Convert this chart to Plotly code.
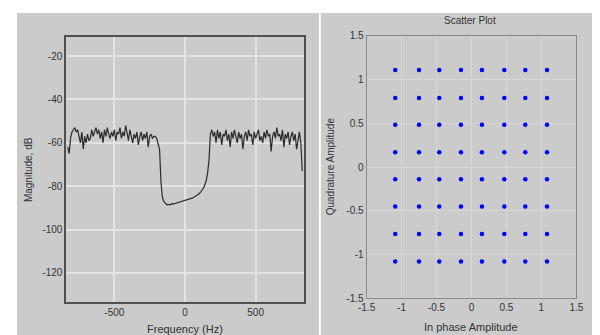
import plotly.graph_objects as go

# ---- Spectrum data (Hz, dB), sampled every 10 Hz from -830 Hz ----
freq_start = -830
freq_step = 10
magnitude_db = [
    -62, -65, -58, -55, -54, -53, -55, -54, -57, -60,
    -55, -63, -57, -60, -56, -59, -58, -54, -57, -55,
    -53, -56, -54, -58, -55, -60, -54, -57, -53, -56,
    -58, -55, -57, -54, -59, -55, -56, -53, -58, -55,
    -57, -52, -56, -59, -54, -57, -60, -56, -58, -55,
    -61, -57, -55, -59, -56, -58, -55, -62, -57, -56,
    -58, -57, -57, -58, -60,
    -63, -78, -85, -87, -88, -88.5, -88.5, -88.5, -88.5, -88,
    -88.3, -88, -87.8, -87.5, -87.6, -87.2, -87, -86.8, -86.7, -86.5,
    -86.2, -86, -85.8, -85.5, -85.2, -84.8, -84.5, -84, -83.5, -82.8,
    -82, -81, -79.5, -77.5, -74, -68, -56,
    -54, -57, -55, -60, -54, -58, -55, -61, -56, -57,
    -54, -59, -56, -62, -55, -58, -54, -57, -60, -55,
    -58, -56, -63, -57, -55, -59, -54, -57, -56, -61,
    -55, -58, -56, -54, -59, -57, -60, -55, -58, -54,
    -57, -56, -64, -57, -55, -58, -53, -57, -56, -59,
    -54, -62, -56, -58, -55, -61, -57, -55, -59, -56,
    -63, -58, -55, -60, -73,
]
freq_hz = [freq_start + freq_step * i for i in range(len(magnitude_db))]

spec_yticks = [-20, -40, -60, -80, -100, -120]
spec_yticktext = ["-20", "-40", "-60", "-80", "-100", "-120"]
spec_xticks = [-500, 0, 500]
spec_xticktext = ["-500", "0", "500"]

# ---- Constellation data (64-QAM levels) ----
inphase_levels = [-1.09, -0.75, -0.46, -0.15, 0.15, 0.47, 0.77, 1.08]
quadrature_levels = [1.11, 0.79, 0.485, 0.17, -0.14, -0.45, -0.765, -1.08]
scatter_ticks = [-1.5, -1, -0.5, 0, 0.5, 1, 1.5]
scatter_ticktext = ["-1.5", "-1", "-0.5", "0", "0.5", "1", "1.5"]

pts_i = [i for q in quadrature_levels for i in inphase_levels]
pts_q = [q for q in quadrature_levels for i in inphase_levels]

W, H = 600, 335
FONT = "Liberation Sans"
TXT = "#333333"

# layout helpers: convert target screen pixels to figure pixels
def fx(p):
    return min(max((p - 16.4) / 0.979, 0), W)

def fy(p):
    return min(max((p - 13.1) / 0.963, 0), H)

def px_x(p):
    return fx(p) / W

def px_y(p):
    return 1 - fy(p) / H

fig = go.Figure()
fig.add_trace(go.Scatter(x=freq_hz, y=magnitude_db, mode="lines",
                         line=dict(color="#2b2b2b", width=1.2),
                         xaxis="x", yaxis="y", showlegend=False,
                         hoverinfo="skip"))
fig.add_trace(go.Scatter(x=pts_i, y=pts_q, mode="markers",
                         marker=dict(color="#0000ff", size=4.5, symbol="circle"),
                         xaxis="x2", yaxis="y2", showlegend=False))

common = dict(showgrid=True, zeroline=False, ticks="", showline=True, mirror=True,
              tickfont=dict(family=FONT, size=10, color=TXT))

fig.update_layout(
    width=W, height=H,
    margin=dict(l=0, r=0, t=0, b=0),
    paper_bgcolor="white", plot_bgcolor="white",
    xaxis=dict(domain=[px_x(66), px_x(305)], range=[-840, 842],
               tickvals=spec_xticks, ticktext=spec_xticktext,
               gridcolor="#e3e3e3", gridwidth=1.5,
               linecolor="#505050", linewidth=2, anchor="y", **common),
    yaxis=dict(domain=[px_y(301), px_y(37)], range=[-133.5, -11.2],
               tickvals=spec_yticks, ticktext=spec_yticktext,
               gridcolor="#e3e3e3", gridwidth=1.5,
               linecolor="#505050", linewidth=2, anchor="x", **common),
    xaxis2=dict(domain=[px_x(368), px_x(579)], range=[-1.5, 1.5],
                tickvals=scatter_ticks, ticktext=scatter_ticktext,
                gridcolor="#d6d6d6", gridwidth=1,
                linecolor="#8a8a8a", linewidth=1, anchor="y2", **common),
    yaxis2=dict(domain=[px_y(297), px_y(36)], range=[-1.5, 1.5],
                tickvals=scatter_ticks, ticktext=scatter_ticktext,
                gridcolor="#d6d6d6", gridwidth=1,
                linecolor="#8a8a8a", linewidth=1, anchor="x2", **common),
    shapes=[
        dict(type="rect", xref="paper", yref="paper", layer="below",
             x0=0, x1=px_x(320), y0=0, y1=1,
             fillcolor="#cbcbcb", line=dict(width=0)),
        dict(type="rect", xref="paper", yref="paper", layer="below",
             x0=px_x(322), x1=1, y0=0, y1=1,
             fillcolor="#cbcbcb", line=dict(width=0)),
        # center cross lines of the constellation plot
        dict(type="line", xref="x2", yref="y2", x0=0, x1=0, y0=-1.5, y1=1.5,
             line=dict(color="#d0d0d0", width=1), layer="below"),
        dict(type="line", xref="x2", yref="y2", x0=-1.5, x1=1.5, y0=0, y1=0,
             line=dict(color="#d0d0d0", width=1), layer="below"),
    ],
    annotations=[
        dict(text="Magnitude, dB", xref="paper", yref="paper",
             x=px_x(28), y=px_y(169), textangle=-90, showarrow=False,
             xanchor="center", yanchor="middle",
             font=dict(family=FONT, size=10, color=TXT)),
        dict(text="Frequency (Hz)", xref="paper", yref="paper",
             x=px_x(185), y=px_y(328), showarrow=False,
             xanchor="center", yanchor="middle",
             font=dict(family=FONT, size=11, color=TXT)),
        dict(text="Scatter Plot", xref="paper", yref="paper",
             x=px_x(472), y=px_y(21), showarrow=False,
             xanchor="center", yanchor="middle",
             font=dict(family=FONT, size=10, color=TXT)),
        dict(text="Quadrature Amplitude", xref="paper", yref="paper",
             x=px_x(332), y=px_y(166), textangle=-90, showarrow=False,
             xanchor="center", yanchor="middle",
             font=dict(family=FONT, size=10, color=TXT)),
        dict(text="In phase Amplitude", xref="paper", yref="paper",
             x=px_x(473), y=px_y(326), showarrow=False,
             xanchor="center", yanchor="middle",
             font=dict(family=FONT, size=11, color=TXT)),
    ],
)

fig.write_html("out.html")
